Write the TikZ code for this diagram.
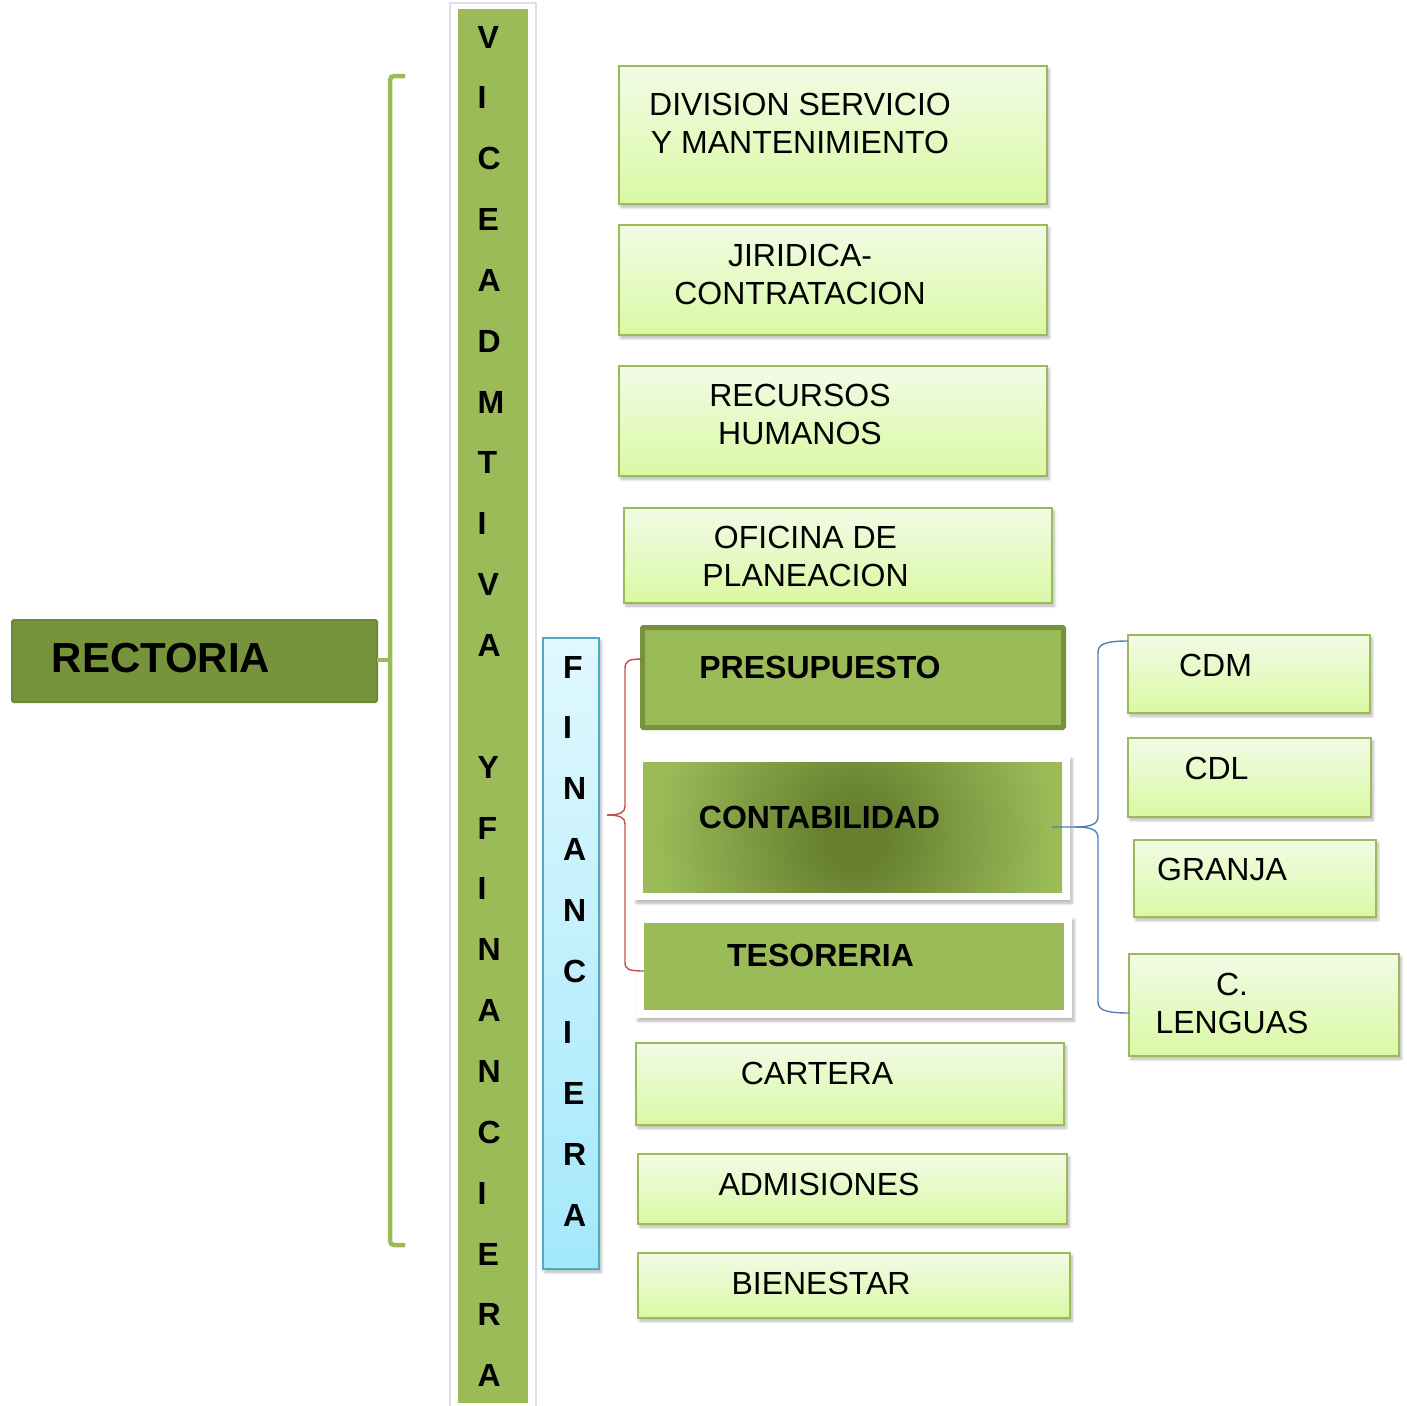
\documentclass[tikz,border=0pt]{standalone}
\usepackage{fontspec}
\setmainfont{Liberation Sans}
\usetikzlibrary{shadows.blur}
\definecolor{olive}{HTML}{9BBB59}
\definecolor{olivedk}{HTML}{76923C}
\definecolor{rectfill}{HTML}{77933C}
\definecolor{rectline}{HTML}{6C8736}
\definecolor{cdark}{HTML}{66802F}
\definecolor{lgtop}{HTML}{F2FBE6}
\definecolor{lgbot}{HTML}{D9F9A3}
\definecolor{cytop}{HTML}{E0F8FE}
\definecolor{cybot}{HTML}{A3E8FB}
\definecolor{cyline}{HTML}{4BACC6}
\definecolor{redbr}{HTML}{C0504D}
\definecolor{bluebr}{HTML}{4F81BD}
\pgfdeclareradialshading{contabshade}{\pgfpoint{0bp}{0bp}}{color(0bp)=(cdark); color(3bp)=(cdark); color(20bp)=(olive); color(50bp)=(olive)}
\begin{document}
\begin{tikzpicture}[x=1pt,y=-1pt,
  every node/.style={inner sep=0pt, outer sep=0pt},
  shad/.style={blur shadow={shadow xshift=2pt, shadow yshift=-3pt, shadow blur steps=6, shadow blur radius=3pt, shadow opacity=30}},
  lbox/.style={draw=olive, line width=1.5pt, top color=lgtop, bottom color=lgbot, shad},
  obox/.style={fill=olive},
  wframe/.style={fill=white, shad},
  txt/.style={align=center, font=\fontsize{32}{38}\selectfont},
  btxt/.style={align=center, font=\bfseries\fontsize{32}{38}\selectfont},
  vlet/.style={anchor=west, font=\bfseries\fontsize{32}{38}\selectfont},
  gbr/.style={draw=olive, line width=4.5pt, rounded corners=4pt},
  rbr/.style={draw=redbr, line width=1.4pt},
  bbr/.style={draw=bluebr, line width=1.4pt}
]
\useasboundingbox (0,0) rectangle (1407,1405);
% vertical bar
\node[fill=white, draw=black!12, line width=1.5pt] (vout) at (493,706.5) [minimum width=86, minimum height=1407] {};
\node[obox] (vbar) at (493,706) [minimum width=70, minimum height=1394] {};
\foreach \l [count=\i from 0] in {V,I,C,E,A,D,M,T,I,V,A,{},Y,F,I,N,A,N,C,I,E,R,A}
  \node[vlet] (v\i) at (477.5,37+60.85*\i) {\l};
% rectoria
\node[fill=rectfill, draw=rectline, line width=2pt, rounded corners=1.5pt] (rect) at (194.5,661) [minimum width=365, minimum height=82] {};
\node[font=\bfseries\fontsize{42}{48}\selectfont] (rectt) at (161,658) {RECTORIA};
% green bracket
\coordinate (gtop) at (405,76);
\coordinate (gbot) at (405,1245);
\coordinate (gmid) at (390,660);
\draw[gbr] (gtop) -- (390,76) -- (390,1245) -- (gbot);
\draw[draw=olive, line width=4.5pt] (rect.east |- gmid) -- (gmid);
% financiera bar
\node[draw=cyline, line width=1.5pt, top color=cytop, bottom color=cybot, shad] (fin) at (571,953.5) [minimum width=56, minimum height=631] {};
\foreach \l [count=\i from 0] in {F,I,N,A,N,C,I,E,R,A}
  \node[vlet] (f\i) at (563,667+60.9*\i) {\l};
% upper boxes
\node[lbox, minimum width=428, minimum height=138] (div) at (833,135) {};
\node[txt] (divt) at (800,123) {DIVISION SERVICIO\\Y MANTENIMIENTO};
\node[lbox, minimum width=428, minimum height=110] (jir) at (833,280) {};
\node[txt] (jirt) at (800,274) {JIRIDICA-\\CONTRATACION};
\node[lbox, minimum width=428, minimum height=110] (rec) at (833,421) {};
\node[txt] (rect2) at (800,414) {RECURSOS\\HUMANOS};
\node[lbox, minimum width=428, minimum height=95] (ofi) at (838,555.5) {};
\node[txt] (ofit) at (805.5,556) {OFICINA DE\\PLANEACION};
% presupuesto
\node[fill=olive, draw=olivedk, line width=5pt, rounded corners=1pt, minimum width=421, minimum height=100] (pre) at (853,677.5) {};
\node[btxt] (pret) at (820,667) {PRESUPUESTO};
% contabilidad
\node[wframe, minimum width=436, minimum height=144] (conf) at (852,828) {};
\node[fill=olive, minimum width=419, minimum height=130] (con) at (852.5,827) {};
\begin{scope}
  \clip (con.north west) rectangle (con.south east);
  \shade[shading=contabshade] (605,586) rectangle (1105,1086);
\end{scope}
\node[btxt] (cont) at (819.5,817) {CONTABILIDAD};
% tesoreria
\node[wframe, minimum width=436, minimum height=101] (tesf) at (854,967.5) {};
\node[fill=olive, minimum width=420, minimum height=87] (tes) at (854,966.5) {};
\node[btxt] (test) at (820.5,955) {TESORERIA};
% lower boxes
\node[lbox, minimum width=428, minimum height=82] (car) at (850,1084) {};
\node[txt] (cart) at (817,1073) {CARTERA};
\node[lbox, minimum width=429, minimum height=70] (adm) at (852.5,1189) {};
\node[txt] (admt) at (819,1184) {ADMISIONES};
\node[lbox, minimum width=432, minimum height=65] (bie) at (854,1285.5) {};
\node[txt] (biet) at (821,1283) {BIENESTAR};
% right boxes
\node[lbox, minimum width=242, minimum height=78] (cdm) at (1249,674) {};
\node[txt] (cdmt) at (1215.5,665) {CDM};
\node[lbox, minimum width=243, minimum height=79] (cdl) at (1249.5,777.5) {};
\node[txt] (cdlt) at (1216.5,768) {CDL};
\node[lbox, minimum width=242, minimum height=77] (gra) at (1255,878.5) {};
\node[txt] (grat) at (1222,869) {GRANJA};
\node[lbox, minimum width=270, minimum height=102] (len) at (1264,1005) {};
\node[txt] (lent) at (1232,1003.5) {C.\\LENGUAS};
% red brace
\coordinate (rtop) at (pre.west |- 0,659);
\coordinate (rtip) at (607,815);
\coordinate (rbot) at (tes.west |- 0,971);
\draw[rbr] (rtop) .. controls (628,659) and (625,661) .. (625,669) -- (625,806) .. controls (625,812) and (621,815) .. (rtip);
\draw[rbr] (rtip) .. controls (621,815) and (625,818) .. (625,824) -- (625,962) .. controls (625,969) and (628,971) .. (rbot);
% blue brace
\coordinate (btip) at (1052,827);
\coordinate (bjoin) at (1074,827);
\coordinate (btop) at (cdm.west |- 0,641);
\coordinate (bbot) at (len.west |- 0,1013);
\draw[bbr] (btip) -- (bjoin) .. controls (1092,827) and (1098,824) .. (1098,816) -- (1098,652) .. controls (1098,644) and (1106,641) .. (btop);
\draw[bbr] (bjoin) .. controls (1092,827) and (1098,830) .. (1098,838) -- (1098,1002) .. controls (1098,1010) and (1106,1013) .. (bbot);
\end{tikzpicture}
\end{document}
